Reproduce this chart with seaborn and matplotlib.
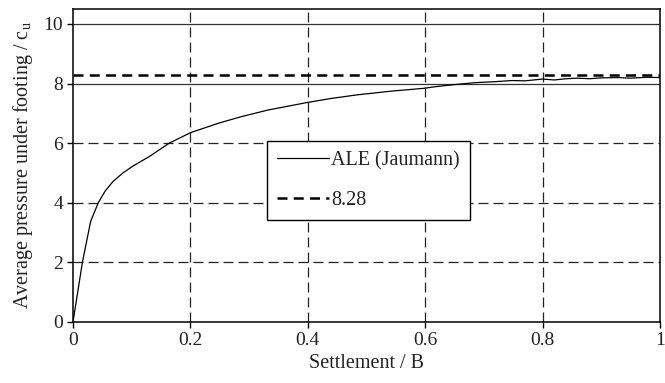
import matplotlib
matplotlib.use("Agg")
import matplotlib.pyplot as plt
import seaborn as sns
import pandas as pd

settlement = [0, 0.016, 0.030, 0.043, 0.055, 0.068, 0.085, 0.102, 0.13, 0.164,
              0.2, 0.248, 0.287, 0.332, 0.398, 0.44, 0.484, 0.54, 0.598, 0.62,
              0.653, 0.686, 0.717, 0.748, 0.77, 0.8, 0.82, 0.84, 0.86, 0.88,
              0.9, 0.928, 0.95, 0.978, 1.0]
pressure = [0, 2.0, 3.37, 4.0, 4.4, 4.71, 5.0, 5.23, 5.55, 6.0,
            6.35, 6.67, 6.89, 7.11, 7.36, 7.5, 7.62, 7.74, 7.84, 7.9,
            7.97, 8.03, 8.06, 8.1, 8.09, 8.15, 8.12, 8.16, 8.18, 8.16,
            8.19, 8.2, 8.18, 8.21, 8.2]
ref_x = [0, 1]
ref_y = [8.28, 8.28]
series_labels = ["ALE (Jaumann)", "8.28"]
x_ticks = [0, 0.2, 0.4, 0.6, 0.8, 1]
x_tick_labels = ["0", "0.2", "0.4", "0.6", "0.8", "1"]
y_ticks = [0, 2, 4, 6, 8, 10]
y_tick_labels = ["0", "2", "4", "6", "8", "10"]
dashed_x_grid = [0.2, 0.4, 0.6, 0.8]
dashed_y_grid = [2, 4, 6]
solid_y_grid = [8, 10]

sns.set_theme(style="ticks")
plt.rcParams['font.family'] = ['Liberation Serif', 'DejaVu Serif']
plt.rcParams['mathtext.fontset'] = 'custom'
plt.rcParams['mathtext.rm'] = 'Liberation Serif'
plt.rcParams['mathtext.it'] = 'Liberation Serif'

fig = plt.figure(figsize=(6.65, 3.83), dpi=100)
ax = fig.add_axes([73/665, 61/383, 587/665, 313/383])

for xv in dashed_x_grid:
    ax.axvline(xv, color='#222222', lw=0.9, ls=(0, (8, 4)), zorder=1)
for yv in dashed_y_grid:
    ax.axhline(yv, color='#222222', lw=0.9, ls=(0, (8, 4)), zorder=1)
for yv in solid_y_grid:
    ax.axhline(yv, color='#333333', lw=0.9, zorder=1)

df = pd.DataFrame({"x": settlement, "y": pressure})
sns.lineplot(data=df, x="x", y="y", ax=ax, color='black', lw=0.9,
             label=series_labels[0], zorder=3)
df2 = pd.DataFrame({"x": ref_x, "y": ref_y})
sns.lineplot(data=df2, x="x", y="y", ax=ax, color='black', lw=1.8,
             ls=(0, (4, 2.5)), label=series_labels[1], zorder=3)

ax.set_xlim(0, 1)
ax.set_ylim(0, 10.5)
ax.set_xticks(x_ticks)
ax.set_xticklabels(x_tick_labels)
ax.set_yticks(y_ticks)
ax.set_yticklabels(y_tick_labels)
ax.tick_params(axis='both', direction='out', length=4, width=1, labelsize=14,
               color='black', labelcolor='#222222', pad=3)
for s in ax.spines.values():
    s.set_color('black')
    s.set_linewidth(1.1)

ax.set_xlabel("Settlement / B", fontsize=14.5, color='#222222', labelpad=4)
ax.set_ylabel(r"Average pressure under footing / c$_\mathrm{u}$", fontsize=14.5,
              color='#222222', labelpad=6)

leg = ax.legend(loc='upper left', bbox_to_anchor=((267-73)/587, (322-141)/313),
                frameon=True, fancybox=False, fontsize=14.5, handlelength=2.6,
                labelspacing=1.0, borderpad=0.5, handletextpad=0.1,
                borderaxespad=0)
leg.get_frame().set_edgecolor('black')
leg.get_frame().set_linewidth(1.0)
leg.get_frame().set_alpha(1)
for t in leg.get_texts():
    t.set_color('#222222')

fig.savefig("out.png", dpi=100)
